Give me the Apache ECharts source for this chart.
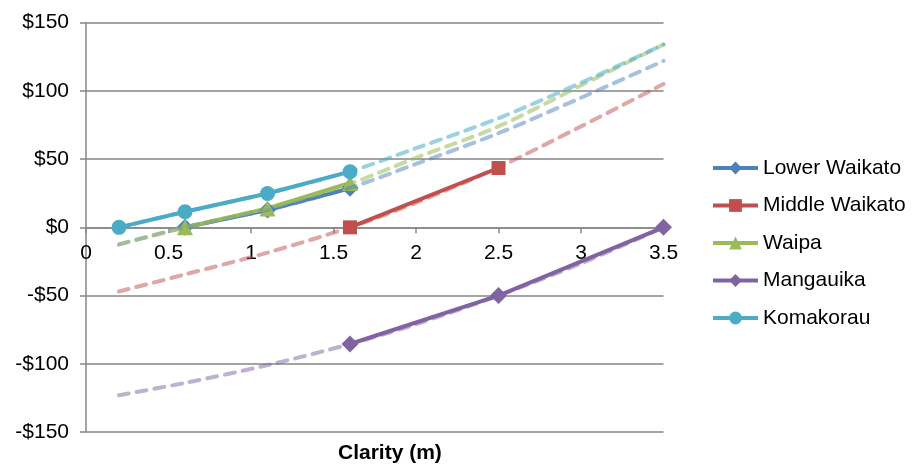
<!DOCTYPE html>
<html><head><meta charset="utf-8">
<script src="https://cdn.jsdelivr.net/npm/echarts@6/dist/echarts.min.js"></script>
<style>html,body{margin:0;padding:0;background:#fff}#c{width:912px;height:466px}</style>
</head><body><div id="c"></div>
<script>
// ---- data ----
const seriesNames = ["Lower Waikato", "Middle Waikato", "Waipa", "Mangauika", "Komakorau"];
const lowerWaikatoX = [0.6, 1.1, 1.6];
const lowerWaikatoY = [0, 12.7, 28.6];
const middleWaikatoX = [1.6, 2.5];
const middleWaikatoY = [0, 43.5];
const waipaX = [0.6, 1.1, 1.6];
const waipaY = [0, 13.9, 32.5];
const mangauikaX = [1.6, 2.5, 3.5];
const mangauikaY = [-85.5, -50, 0];
const komakorauX = [0.2, 0.6, 1.1, 1.6];
const komakorauY = [0, 11.4, 24.8, 40.8];
// trendlines
const trendX = [0.2, 0.6, 1.1, 1.6, 2.0, 2.5, 3.0, 3.5];
const lowerWaikatoTrend = [-12.5, 0, 12.8, 29, 46.5, 69, 95, 122];
const middleWaikatoTrend = [-47, -34.5, -18.5, 0, 18, 44, 74, 105];
const waipaTrend = [-12.5, 0, 14, 32, 51, 74, 104, 134];
const mangauikaTrend = [-123, -114, -101, -85.5, -71, -50, -26.5, 0];
const komakorauTrend = [0, 11.4, 25, 41, 58, 80, 106, 134];
const xTicks = [0, 0.5, 1, 1.5, 2, 2.5, 3, 3.5];
const yTicks = [-150, -100, -50, 0, 50, 100, 150];

const colors = ["#4F81BD", "#C0504D", "#9BBB59", "#8064A2", "#4BACC6"];
const trendColors = ["rgba(79,129,189,0.5)", "rgba(192,80,77,0.5)", "rgba(155,187,89,0.55)", "rgba(128,100,162,0.5)", "rgba(75,172,198,0.55)"];
const symbols = ["diamond", "rect", "triangle", "diamond", "circle"];
const symbolSizes = [17, 14, 16, 17, 15];

function zip(xs, ys) { return xs.map((x, i) => [x, ys[i]]); }
const mainX = [lowerWaikatoX, middleWaikatoX, waipaX, mangauikaX, komakorauX];
const mainY = [lowerWaikatoY, middleWaikatoY, waipaY, mangauikaY, komakorauY];
const trends = [lowerWaikatoTrend, middleWaikatoTrend, waipaTrend, mangauikaTrend, komakorauTrend];

const series = [];
seriesNames.forEach((n, i) => {
  series.push({
    name: n, type: 'line', data: zip(mainX[i], mainY[i]),
    symbol: symbols[i], symbolSize: symbolSizes[i], showAllSymbol: true,
    lineStyle: { color: colors[i], width: 4 }, itemStyle: { color: colors[i] },
    z: 3, animation: false
  });
});
seriesNames.forEach((n, i) => {
  series.push({
    name: n + ' trend', type: 'line', data: zip(trendX, trends[i]),
    symbol: 'none', smooth: 0.3,
    lineStyle: { color: trendColors[i], width: 4, type: [10, 8], cap: 'round' },
    z: 4, animation: false, silent: true
  });
});

const chart = echarts.init(document.getElementById('c'), null, { renderer: 'canvas' });
const font = 'Arial, "Liberation Sans", sans-serif';
chart.setOption({
  animation: false,
  backgroundColor: '#fff',
  textStyle: { fontFamily: font },
  title: {
    text: 'Clarity (m)', left: 338, top: 443, padding: 0,
    textStyle: { fontFamily: font, fontWeight: 'bold', fontSize: 21, color: '#000' }
  },
  grid: { left: 86, right: 248.5, top: 22.7, bottom: 34, containLabel: false },
  legend: {
    data: seriesNames, orient: 'vertical', left: 711, top: 157.5, padding: 0,
    itemWidth: 45, itemHeight: 16, itemGap: 16.5,
    lineStyle: { width: 4 },
    textStyle: { fontFamily: font, fontSize: 21, color: '#000', lineHeight: 21 }
  },
  xAxis: {
    type: 'value', min: xTicks[0], max: xTicks[xTicks.length - 1], interval: 0.5,
    position: 'bottom', offset: -204.7,
    axisLine: { onZero: false, lineStyle: { color: '#868686', width: 1.5 } },
    axisTick: { show: true, inside: false, length: 6, lineStyle: { color: '#868686', width: 1.5 } },
    axisLabel: { fontSize: 21, color: '#000', margin: 15, fontFamily: font, formatter: v => String(v) },
    splitLine: { show: false }
  },
  yAxis: {
    type: 'value', min: yTicks[0], max: yTicks[yTicks.length - 1], interval: 50,
    axisLine: { show: true, lineStyle: { color: '#868686', width: 1.5 } },
    axisTick: { show: true, inside: false, length: 6, lineStyle: { color: '#868686', width: 1.5 } },
    axisLabel: { fontSize: 21, color: '#000', margin: 17, fontFamily: font,
      formatter: v => (v < 0 ? '-$' + Math.abs(v) : '$' + v) },
    splitLine: { show: true, lineStyle: { color: '#868686', width: 1.5 } }
  },
  series: series
});
</script></body></html>
